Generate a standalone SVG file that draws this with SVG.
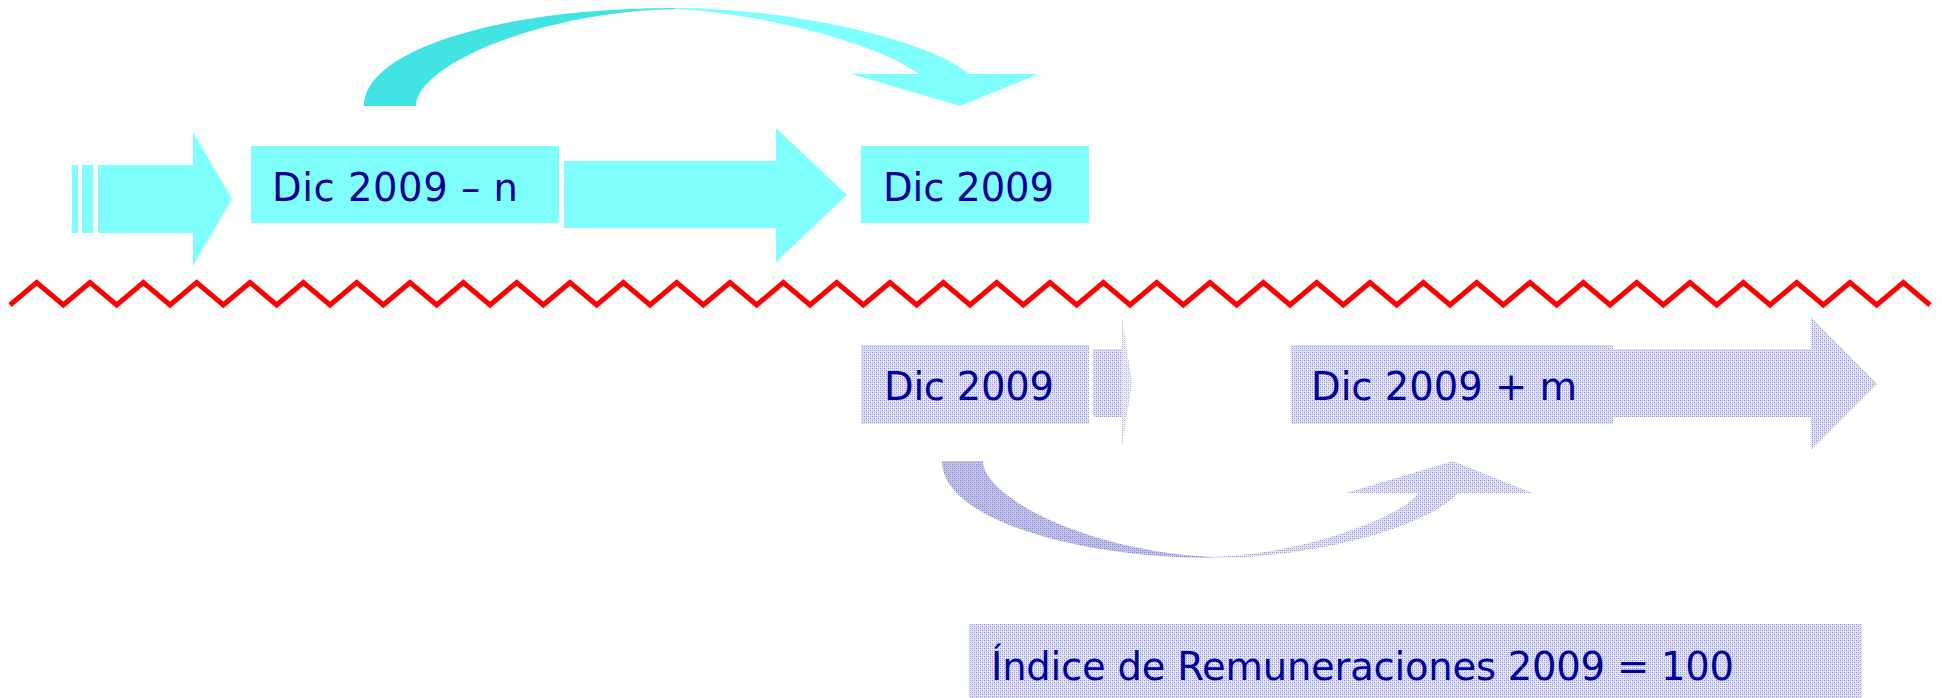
<svg xmlns="http://www.w3.org/2000/svg" width="1942" height="698" viewBox="0 0 1942 698">
<style>
.cy{fill:#80FFFF}
.cyd{fill:#42E3E3}
.lbl{font-family:"DejaVu Sans","Liberation Sans",sans-serif;font-size:38.5px;fill:#000099}
.pat{fill:url(#dots)}
.patd{fill:url(#dotsDark)}
.patl{fill:url(#dotsLight)}
</style>
<defs>
<pattern id="dots" width="4" height="4" patternUnits="userSpaceOnUse">
<rect width="4" height="4" fill="#E2E2F5"/>
<rect x="0" y="0" width="1" height="1" fill="#8E8ED8"/>
<rect x="2" y="2" width="1" height="1" fill="#8E8ED8"/>
<rect x="2" y="0" width="1" height="1" fill="#B4B4E6"/>
<rect x="0" y="2" width="1" height="1" fill="#B4B4E6"/>
</pattern>
<pattern id="dotsDark" width="4" height="4" patternUnits="userSpaceOnUse">
<rect width="4" height="4" fill="#C4C4EA"/>
<rect x="0" y="0" width="1" height="1" fill="#7C7CCC"/>
<rect x="2" y="2" width="1" height="1" fill="#7C7CCC"/>
<rect x="2" y="0" width="1" height="1" fill="#9C9CDA"/>
<rect x="0" y="2" width="1" height="1" fill="#9C9CDA"/>
</pattern>
<pattern id="dotsLight" width="4" height="4" patternUnits="userSpaceOnUse">
<rect width="4" height="4" fill="#EEEEF9"/>
<rect x="0" y="0" width="1" height="1" fill="#A8A8E2"/>
<rect x="2" y="2" width="1" height="1" fill="#A8A8E2"/>
<rect x="2" y="0" width="1" height="1" fill="#CACAEE"/>
<rect x="0" y="2" width="1" height="1" fill="#CACAEE"/>
</pattern>
</defs>

<g id="connectors">
  <g id="arrow-left">
    <rect class="cy" x="72" y="165" width="6" height="68"/>
    <rect class="cy" x="82" y="165" width="11" height="68"/>
    <polygon class="cy" points="98,165 193,165 193,132 232,199 193,266 193,233 98,233"/>
  </g>
  <g id="arrow-middle">
    <polygon class="cy" points="564,161 776,161 776,128 847,195 776,262 776,228 564,228"/>
  </g>
  <g id="curve-top">
    <path class="cyd" d="M364,106 C364,50 500,8 675,8 L675,9 C540,12 416,65 416,106 Z"/>
    <path class="cy" d="M675,8 C790,8 930,40 969,74 L1039,74 L960,106 L851,74 L919,74 C880,45 770,14 675,9 Z"/>
  </g>
  <g id="arrow-small">
    <rect class="pat" x="1093" y="349" width="29" height="68"/>
    <polygon class="patl" points="1122,318 1132,382 1122,447"/>
  </g>
  <g id="arrow-big">
    <polygon class="pat" points="1605,349 1811,349 1811,317 1877,384 1811,450 1811,417 1605,417"/>
  </g>
  <g id="curve-bottom">
    <path class="patd" d="M942,461 C942,520 1080,558 1212,558 L1212,557 C1080,550 983,495 983,461 Z"/>
    <path class="pat" d="M1212,558 C1320,558 1430,525 1458,493 L1532,493 L1453,461 L1346,493 L1418,493 C1400,520 1290,556 1212,557 Z"/>
  </g>
  <g id="zigzag">
    <polyline fill="none" stroke="#FF0000" stroke-width="5" stroke-linejoin="miter" points="10,305 36.67,282.5 63.33,305 90,282.5 116.67,305 143.33,282.5 170,305 196.67,282.5 223.33,305 250,282.5 276.67,305 303.33,282.5 330,305 356.67,282.5 383.33,305 410,282.5 436.67,305 463.33,282.5 490,305 516.67,282.5 543.33,305 570,282.5 596.67,305 623.33,282.5 650,305 676.67,282.5 703.33,305 730,282.5 756.67,305 783.33,282.5 810,305 836.67,282.5 863.33,305 890,282.5 916.67,305 943.33,282.5 970,305 996.67,282.5 1023.33,305 1050,282.5 1076.67,305 1103.33,282.5 1130,305 1156.67,282.5 1183.33,305 1210,282.5 1236.67,305 1263.33,282.5 1290,305 1316.67,282.5 1343.33,305 1370,282.5 1396.67,305 1423.33,282.5 1450,305 1476.67,282.5 1503.33,305 1530,282.5 1556.67,305 1583.33,282.5 1610,305 1636.67,282.5 1663.33,305 1690,282.5 1716.67,305 1743.33,282.5 1770,305 1796.67,282.5 1823.33,305 1850,282.5 1876.67,305 1903.33,282.5 1930,305"/>
  </g>
</g>

<g id="node-dic2009-n">
  <rect class="cy" x="251" y="146" width="308" height="77"/>
  <text class="lbl" x="272" y="201" textLength="246" lengthAdjust="spacing">Dic 2009 – n</text>
</g>
<g id="node-dic2009-top">
  <rect class="cy" x="861" y="146" width="228" height="77"/>
  <text class="lbl" x="883" y="201" textLength="171" lengthAdjust="spacing">Dic 2009</text>
</g>
<g id="node-dic2009-bottom">
  <rect class="pat" x="861" y="345" width="228" height="79"/>
  <text class="lbl" x="884" y="400" textLength="170" lengthAdjust="spacing">Dic 2009</text>
</g>
<g id="node-dic2009-m">
  <rect class="pat" x="1291" y="345" width="322" height="79"/>
  <text class="lbl" x="1311" y="400" textLength="266" lengthAdjust="spacing">Dic 2009 + m</text>
</g>
<g id="node-indice">
  <rect class="pat" x="969" y="624" width="893" height="74"/>
  <text class="lbl" x="991" y="680" textLength="743" lengthAdjust="spacing">Índice de Remuneraciones 2009 = 100</text>
</g>
</svg>
